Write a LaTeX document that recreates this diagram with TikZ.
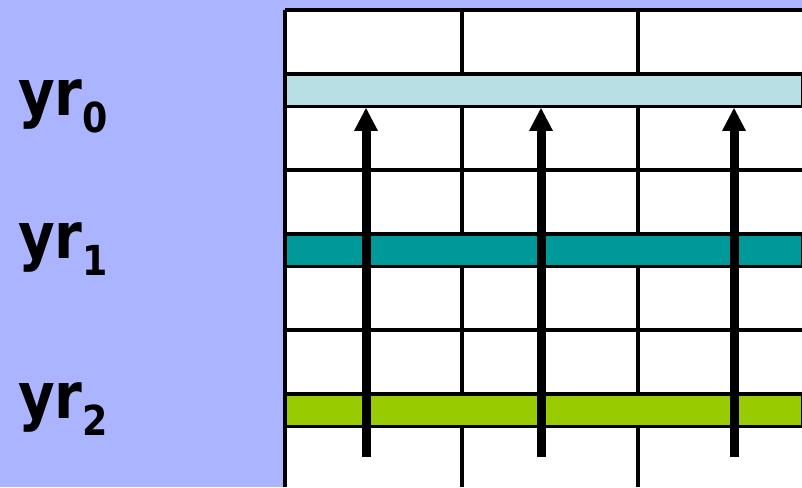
\documentclass[tikz,border=0pt]{standalone}
\usepackage{fontspec}
\setmainfont{DejaVu Sans}
\newfontfamily\yrfont[FakeStretch=0.88]{DejaVu Sans}
\usepackage{xcolor}
\usetikzlibrary{arrows.meta, positioning}

\definecolor{panelblue}{HTML}{AAB4FF}
\definecolor{lightband}{HTML}{B8E0E4}
\definecolor{tealband}{HTML}{009999}
\definecolor{greenband}{HTML}{99CC00}

\newcommand{\yrlabel}[1]{yr\raisebox{-12.75pt}{\fontsize{31}{31}\selectfont #1}}

\begin{document}
\begin{tikzpicture}[x=0.75pt, y=-0.75pt,
    gridline/.style={line width=2.75pt},
    band/.style={rectangle, draw, line width=2.25pt, inner sep=0pt,
                 minimum width=517*0.75pt, minimum height=32*0.75pt},
    yrtext/.style={font=\yrfont\fontsize{48}{48}\selectfont\bfseries,
                   inner sep=0pt, anchor=base west},
    uparrow/.style={-{Triangle[length=17.5pt, width=16.5pt]}, line width=6.75pt},
]
\useasboundingbox (0,0) rectangle (802,487);

% Background and grid
\fill[panelblue] (0,0) rectangle (802,487);
\fill[white] (285,10) rectangle (802,487);
\foreach \y in {10,74,106,170,234,266,330,394,426}
    \draw[gridline] (285,\y) -- (802,\y);
\foreach \x in {285,462,638}
    \draw[gridline] (\x,10) -- (\x,487);

% Bands
\node[band, fill=lightband] (band0) at (543.5,90)  {};
\node[band, fill=tealband]  (band1) at (543.5,250) {};
\node[band, fill=greenband] (band2) at (543.5,410) {};

% Labels
\node[yrtext] (yr0) at (18,115) {\yrlabel{0}};
\node[yrtext] (yr1) at (18,258) {\yrlabel{1}};
\node[yrtext] (yr2) at (18,418) {\yrlabel{2}};

% Arrows
\coordinate (foot0) at (366,457);
\coordinate (foot1) at (541,457);
\coordinate (foot2) at (734,457);
\draw[uparrow] (foot0) -- (foot0 |- band0.south);
\draw[uparrow] (foot1) -- (foot1 |- band0.south);
\draw[uparrow] (foot2) -- (foot2 |- band0.south);

\end{tikzpicture}
\end{document}
